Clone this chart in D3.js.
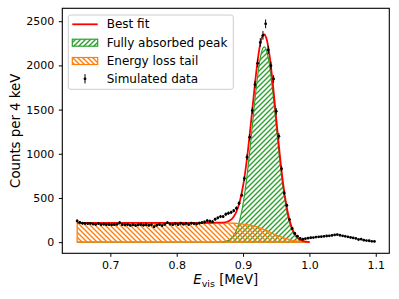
<!DOCTYPE html>
<html><head><meta charset="utf-8">
<script src="https://cdn.jsdelivr.net/npm/d3@7"></script>
<style>
html,body{margin:0;padding:0;background:#fff;}
svg{display:block;font-family:"DejaVu Sans",sans-serif;}
</style></head>
<body>
<svg id="chart" width="399" height="299"></svg>
<script>
// ---- data ----
const energies = [
0.650,0.654,0.658,0.662,0.666,0.670,0.674,0.678,0.682,0.686,
0.690,0.694,0.698,0.702,0.706,0.710,0.714,0.718,0.722,0.726,
0.730,0.734,0.738,0.742,0.746,0.750,0.754,0.758,0.762,0.766,
0.770,0.774,0.778,0.782,0.786,0.790,0.794,0.798,0.802,0.806,
0.810,0.814,0.818,0.822,0.826,0.830,0.834,0.838,0.842,0.846,
0.850,0.854,0.858,0.862,0.866,0.870,0.874,0.878,0.882,0.886,
0.890,0.894,0.898,0.902,0.906,0.910,0.914,0.918,0.922,0.926,
0.930,0.934,0.938,0.942,0.946,0.950,0.954,0.958,0.962,0.966,
0.970,0.974,0.978,0.982,0.986,0.990,0.994,0.998,1.002,1.006,
1.010,1.014,1.018,1.022,1.026,1.030,1.034,1.038,1.042,1.046,
1.050,1.054,1.058,1.062,1.066,1.070,1.074,1.078,1.082,1.086,
1.090,1.094,1.098];
const counts = [
240,225,214,212,210,212,205,202,210,200,
203,198,200,196,198,202,221,198,195,199,
191,196,189,195,200,192,198,190,196,175,
192,199,188,201,221,205,198,210,200,214,
204,212,199,214,210,205,216,222,228,243,
238,232,259,275,289,290,316,328,338,356,
384,440,530,719,962,1188,1489,1783,2023,2260,
2340,2470,2174,1997,1846,1480,1199,832,556,417,
256,155,98,68,42,34,40,45,50,52,
58,60,62,66,70,72,76,82,86,78,
72,66,60,54,48,42,30,34,22,18,
16,10,8];
const fitEnergies = [0.650,0.700,0.750,0.800,0.850,0.860,0.870,0.875,0.880,0.885,0.890,0.895,0.900,0.905,0.910,0.915,0.920,0.925,0.930,0.932,0.935,0.940,0.945,0.950,0.955,0.960,0.965,0.970,0.975,0.980,0.985,0.990,0.995,1.000];
const tailFit = [218,218,218,218,218,218,217,216,215,214,212,209,205,199,192,184,175,162,148,142,133,115,97,80,65,52,40,29,20,13,8,4,2,0];
const peakFit = [0,0,0,0,1,2,5,12,30,65,132,249,431,691,1021,1393,1756,2044,2196,2210,2178,1996,1688,1318,950,632,389,221,116,56,25,10,4,1];
const xTicks = [0.7,0.8,0.9,1.0,1.1];
const yTicks = [0,500,1000,1500,2000,2500];
const legendLabels = ["Best fit","Fully absorbed peak","Energy loss tail","Simulated data"];

// ---- layout ----
const L = 62.3, R = 389.3, T = 8.3, B = 253.3;
const x = d3.scaleLinear().domain([0.6276, 1.1204]).range([L, R]);
const y = d3.scaleLinear().domain([-126, 2646]).range([B, T]);
const svg = d3.select("#chart");
const GREEN = "#2ca02c", ORANGE = "#ff7f0e";

const defs = svg.append("defs");
defs.append("clipPath").attr("id","clip").append("rect")
  .attr("x",L).attr("y",T).attr("width",R-L).attr("height",B-T);
const pg = defs.append("pattern").attr("id","hGreen").attr("patternUnits","userSpaceOnUse")
  .attr("width",5).attr("height",5);
pg.append("path").attr("d","M-1,1 l2,-2 M0,5 l5,-5 M4,6 l2,-2")
  .attr("stroke",GREEN).attr("stroke-width",1.4).attr("fill","none");
const po = defs.append("pattern").attr("id","hOrange").attr("patternUnits","userSpaceOnUse")
  .attr("width",5).attr("height",5);
po.append("path").attr("d","M-1,4 l2,2 M0,0 l5,5 M4,-1 l2,2")
  .attr("stroke",ORANGE).attr("stroke-width",1.4).attr("fill","none");

const fit = fitEnergies.map((e,i)=>({e, tail: tailFit[i], peak: peakFit[i], sum: tailFit[i]+peakFit[i]}));
const pts = energies.map((e,i)=>({e, c: counts[i]}));

const plot = svg.append("g").attr("clip-path","url(#clip)");

const areaPeak = d3.area().x(d=>x(d.e)).y0(y(0)).y1(d=>y(d.peak)).curve(d3.curveMonotoneX);
const areaTail = d3.area().x(d=>x(d.e)).y0(y(0)).y1(d=>y(d.tail)).curve(d3.curveMonotoneX);
plot.append("path").datum(fit).attr("d",areaPeak)
  .attr("fill","url(#hGreen)").attr("stroke",GREEN).attr("stroke-width",1.2);
plot.append("path").datum(fit).attr("d",areaTail)
  .attr("fill","url(#hOrange)").attr("stroke",ORANGE).attr("stroke-width",1.3);
plot.append("path").datum(fit)
  .attr("d", d3.line().x(d=>x(d.e)).y(d=>y(d.sum)).curve(d3.curveMonotoneX))
  .attr("fill","none").attr("stroke","#ff0000").attr("stroke-width",1.8);

// data points with sqrt(N) error bars
plot.append("g").selectAll("line").data(pts).join("line")
  .attr("x1",d=>x(d.e)).attr("x2",d=>x(d.e))
  .attr("y1",d=>y(d.c-Math.sqrt(d.c))).attr("y2",d=>y(d.c+Math.sqrt(d.c)))
  .attr("stroke","#000").attr("stroke-width",1);
plot.append("g").selectAll("circle").data(pts).join("circle")
  .attr("cx",d=>x(d.e)).attr("cy",d=>y(d.c)).attr("r",1.4).attr("fill","#000");

// axes
const xAxis = svg.append("g").attr("transform",`translate(0,${B})`)
  .call(d3.axisBottom(x).tickValues(xTicks).tickFormat(d3.format(".1f")).tickSize(3.5).tickPadding(4));
const yAxis = svg.append("g").attr("transform",`translate(${L},0)`)
  .call(d3.axisLeft(y).tickValues(yTicks).tickFormat(d3.format("d")).tickSize(3.5).tickPadding(4.5));
[xAxis,yAxis].forEach(a=>{
  a.select(".domain").remove();
  a.selectAll("text").attr("font-size",11).attr("fill","#000").attr("font-family","DejaVu Sans");
  a.selectAll("line").attr("stroke","#000").attr("stroke-width",1);
});
svg.append("rect").attr("x",L).attr("y",T).attr("width",R-L).attr("height",B-T)
  .attr("fill","none").attr("stroke","#000").attr("stroke-width",1.1);

// axis labels
const xl = svg.append("text").attr("x",(L+R)/2).attr("y",284).attr("text-anchor","middle")
  .attr("font-size",13.3).attr("fill","#000");
xl.append("tspan").attr("font-style","italic").text("E");
xl.append("tspan").attr("font-size",9.5).attr("dy",2.8).text("vis");
xl.append("tspan").attr("dy",-2.8).text(" [MeV]");
svg.append("text").attr("transform",`translate(15,${(T+B)/2}) rotate(-90)`)
  .attr("text-anchor","middle").attr("dominant-baseline","central")
  .attr("font-size",13.3).attr("fill","#000").text("Counts per 4 keV");

// legend
const lg = svg.append("g");
lg.append("rect").attr("x",68.3).attr("y",15).attr("width",165).attr("height",74.3)
  .attr("rx",2.5).attr("fill","#fff").attr("fill-opacity",0.8)
  .attr("stroke","#cccccc").attr("stroke-width",1);
const rowsY = [24.3, 42.7, 61, 78.8];
const hx0 = 72.3, hx1 = 97.7, hxc = 85;
lg.append("line").attr("x1",hx0).attr("x2",hx1).attr("y1",rowsY[0]).attr("y2",rowsY[0])
  .attr("stroke","#ff0000").attr("stroke-width",1.8);
lg.append("rect").attr("x",hx0).attr("y",rowsY[1]-3.5).attr("width",hx1-hx0).attr("height",7)
  .attr("fill","url(#hGreen)").attr("stroke",GREEN).attr("stroke-width",1.2);
lg.append("rect").attr("x",hx0).attr("y",rowsY[2]-3.5).attr("width",hx1-hx0).attr("height",7)
  .attr("fill","url(#hOrange)").attr("stroke",ORANGE).attr("stroke-width",1.2);
lg.append("line").attr("x1",hxc).attr("x2",hxc).attr("y1",rowsY[3]-4.7).attr("y2",rowsY[3]+4.7)
  .attr("stroke","#000").attr("stroke-width",1);
lg.append("circle").attr("cx",hxc).attr("cy",rowsY[3]).attr("r",1.4).attr("fill","#000");
lg.selectAll("text.lab").data(legendLabels).join("text").attr("class","lab")
  .attr("x",106.7).attr("y",(d,i)=>rowsY[i]).attr("dominant-baseline","central")
  .attr("font-size",12).attr("fill","#000").text(d=>d);
</script>
</body></html>
